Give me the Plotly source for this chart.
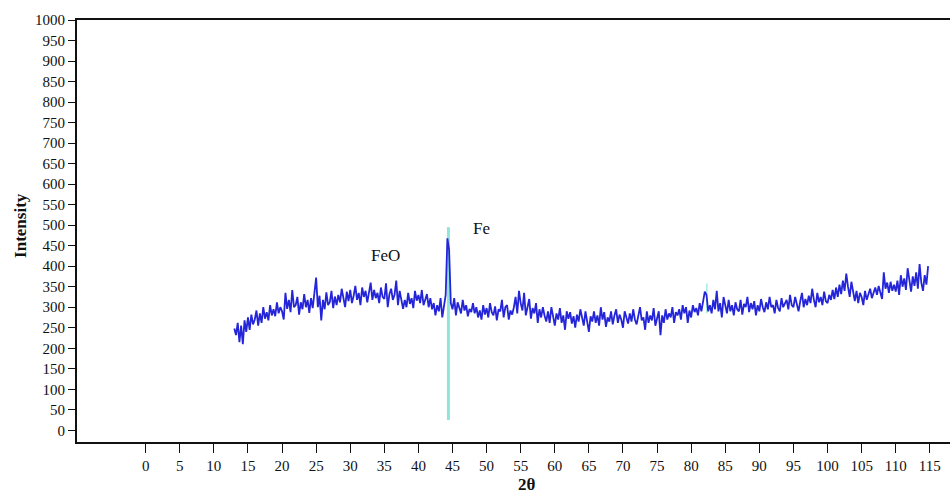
import plotly.graph_objects as go

# 2-theta grid (step 0.25 deg) and intensities
two_theta_start = 13.0
two_theta_step = 0.25
intensity = [
    248, 232, 262, 215,   # 13
    255, 210, 268, 240,   # 14
    275, 245, 282, 258,   # 15
    270, 292, 255, 285,   # 16
    262, 300, 272, 288,   # 17
    268, 305, 280, 295,   # 18
    278, 312, 285, 300,   # 19
    290, 270, 335, 296,   # 20
    318, 288, 342, 300,   # 21
    305, 325, 282, 312,   # 22
    295, 332, 300, 318,   # 23
    286, 322, 298, 340,   # 24
    372, 300, 328, 268,   # 25
    318, 295, 336, 305,   # 26
    312, 340, 298, 326,   # 27
    305, 330, 312, 345,   # 28
    318, 300, 338, 315,   # 29
    342, 310, 328, 352,   # 30
    318, 335, 305, 348,   # 31
    325, 340, 312, 335,   # 32
    360, 318, 342, 322,   # 33
    335, 310, 348, 325,   # 34
    320, 358, 300, 332,   # 35
    345, 318, 330, 365,   # 36
    305, 340, 312, 296,   # 37
    318, 300, 335, 308,   # 38
    322, 298, 340, 316,   # 39
    330, 310, 342, 305,   # 40
    318, 332, 300, 322,   # 41
    295, 310, 280, 305,   # 42
    290, 322, 275, 300,   # 43
    330, 468, 440, 310,   # 44
    295, 322, 280, 312,   # 45
    300, 285, 318, 292,   # 46
    305, 278, 296, 288,   # 47
    310, 285, 300, 275,   # 48
    292, 270, 305, 282,   # 49
    298, 275, 310, 288,   # 50
    280, 302, 268, 295,   # 51
    290, 318, 275, 300,   # 52
    305, 270, 292, 282,   # 53
    300, 325, 285, 340,   # 54
    310, 292, 335, 280,   # 55
    300, 320, 272, 298,   # 56
    285, 310, 262, 295,   # 57
    275, 300, 280, 265,   # 58
    290, 262, 300, 275,   # 59
    255, 285, 270, 298,   # 60
    262, 280, 245, 290,   # 61
    272, 288, 260, 278,   # 62
    250, 282, 265, 295,   # 63
    270, 255, 290, 262,   # 64
    240, 278, 265, 290,   # 65
    262, 280, 255, 300,   # 66
    270, 288, 252, 275,   # 67
    265, 290, 258, 280,   # 68
    295, 262, 282, 270,   # 69
    250, 290, 272, 260,   # 70
    285, 265, 295, 270,   # 71
    258, 282, 300, 268,   # 72
    275, 245, 290, 262,   # 73
    280, 268, 298, 255,   # 74
    272, 290, 232, 280,   # 75
    262, 295, 270, 285,   # 76
    275, 300, 262, 288,   # 77
    280, 295, 270, 305,   # 78
    285, 300, 262, 292,   # 79
    275, 305, 288, 298,   # 80
    280, 310, 290, 320,   # 81
    338, 330, 290, 305,   # 82
    285, 318, 295, 340,   # 83
    290, 310, 275, 325,   # 84
    300, 285, 318, 290,   # 85
    305, 280, 312, 295,   # 86
    290, 318, 282, 308,   # 87
    300, 325, 288, 310,   # 88
    295, 315, 280, 305,   # 89
    290, 320, 300, 288,   # 90
    312, 295, 325, 300,   # 91
    305, 285, 318, 298,   # 92
    290, 322, 300, 310,   # 93
    318, 295, 330, 305,   # 94
    300, 325, 310, 290,   # 95
    315, 335, 300, 320,   # 96
    305, 328, 310, 345,   # 97
    318, 300, 335, 312,   # 98
    325, 305, 338, 315,   # 99
    310, 330, 318, 342,   # 100
    320, 348, 325, 355,   # 101
    332, 365, 340, 382,   # 102
    350, 325, 362, 335,   # 103
    315, 340, 310, 335,   # 104
    325, 305, 340, 318,   # 105
    330, 345, 322, 338,   # 106
    348, 330, 352, 335,   # 107
    320, 385, 345, 360,   # 108
    335, 362, 340, 355,   # 109
    338, 365, 330, 378,   # 110
    350, 370, 342, 395,   # 111
    360, 338, 375, 352,   # 112
    385, 345, 405, 360,   # 113
    340, 378, 355, 400,   # 114
]
two_theta = [two_theta_start + i * two_theta_step for i in range(len(intensity))]

# reference marker lines (cyan)
fe_line_x = [44.4, 44.4]
fe_line_y = [25, 495]
small_line_x = [82.3, 82.3]
small_line_y = [285, 358]

# peak labels
label_text = ["FeO", "Fe"]
label_x = [35.2, 49.3]
label_y = [427, 493]

x_ticks = list(range(0, 116, 5))
y_ticks = list(range(0, 1001, 50))

fig = go.Figure()
fig.add_trace(go.Scatter(x=fe_line_x, y=fe_line_y, mode="lines",
                         line=dict(color="#8ee6da", width=3), hoverinfo="skip"))
fig.add_trace(go.Scatter(x=small_line_x, y=small_line_y, mode="lines",
                         line=dict(color="#8ee6da", width=1.2), hoverinfo="skip"))
fig.add_trace(go.Scatter(x=two_theta, y=intensity, mode="lines",
                         line=dict(color="#2424d8", width=1.8)))

serif = "Liberation Serif, Times New Roman, serif"
for t, xv, yv in zip(label_text, label_x, label_y):
    fig.add_annotation(x=xv, y=yv, text=t, showarrow=False,
                       font=dict(family=serif, size=17, color="#111"))

fig.add_annotation(xref="paper", yref="paper", x=-0.0655, y=0.514,
                   xanchor="center", yanchor="middle",
                   text="<b>Intensity</b>", textangle=-90, showarrow=False,
                   font=dict(family=serif, size=17, color="#111"))
fig.add_annotation(xref="x", yref="paper", x=55.9, y=-0.101,
                   xanchor="center", yanchor="middle",
                   text="<b>2θ</b>", showarrow=False,
                   font=dict(family=serif, size=17, color="#111"))

fig.update_layout(
    width=950, height=493,
    margin=dict(l=77, r=0, t=20, b=51),
    paper_bgcolor="white", plot_bgcolor="white",
    showlegend=False,
    xaxis=dict(range=[-10.07, 117.96], tickvals=x_ticks,
               ticktext=[str(v) for v in x_ticks],
               showgrid=False, zeroline=False,
               showline=True, linecolor="#111", linewidth=2, mirror=True,
               ticks="outside", ticklen=9, tickcolor="#111", tickwidth=1,
               tickfont=dict(family=serif, size=15, color="#111")),
    yaxis=dict(range=[-28.5, 1000], tickvals=y_ticks,
               ticktext=[str(v) for v in y_ticks],
               showgrid=False, zeroline=False,
               showline=True, linecolor="#111", linewidth=2,
               ticks="outside", ticklen=7, tickcolor="#111", tickwidth=1,
               tickfont=dict(family=serif, size=15, color="#111")),
)

fig.write_html("out.html")
